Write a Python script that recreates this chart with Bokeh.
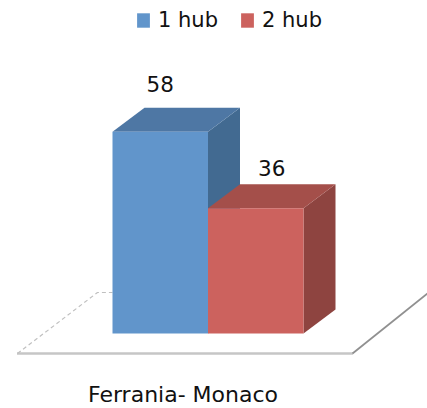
from bokeh.plotting import figure
from bokeh.models import Range1d, Legend, LegendItem, Label
from bokeh.core.properties import value
from bokeh.embed import file_html
from bokeh.resources import INLINE

series = ["1 hub", "2 hub"]
values = [58, 36]
category = "Ferrania- Monaco"
front_colors = ["#6195CB", "#CC625E"]
top_colors = ["#4E77A4", "#A44F4A"]
side_colors = ["#426A91", "#8E4440"]

W, H = 427, 408
PX_X = 95.5   # pixels per bar width
PX_Y = 3.48   # pixels per value unit
x0 = -112 / PX_X
y0 = -(H - 333) / PX_Y
DX = 32 / PX_X
DY = 24 / PX_Y

p = figure(width=W, height=H, output_backend="svg", toolbar_location=None,
           x_range=Range1d(x0, x0 + W / PX_X), y_range=Range1d(y0, y0 + H / PX_Y),
           min_border=0, outline_line_color=None, background_fill_color="white")
p.axis.visible = False
p.grid.visible = False

# floor
fx_front = -95 / PX_X
fy_front = -20 / PX_Y
fx_right = 240 / PX_X
fy_back = 41 / PX_Y
p.line([fx_front, fx_right], [fy_front, fy_front], line_color="#8c8c8c", line_width=2.5, line_dash="1 1")
p.line([fx_right, fx_right + 75 / PX_X], [fy_front, fy_front + 60 / PX_Y], line_color="#909090", line_width=1.8)
p.line([fx_front, -15 / PX_X, 0], [fy_front, fy_back, fy_back], line_color="#c0c0c0", line_width=1.2, line_dash="4 3")

renderers = []
for i in [0, 1]:
    v = values[i]
    p.patch([i + 1, i + 1 + DX, i + 1 + DX, i + 1], [0, DY, v + DY, v], fill_color=side_colors[i], line_color=None)
    p.patch([i, i + DX, i + 1 + DX, i + 1], [v, v + DY, v + DY, v], fill_color=top_colors[i], line_color=None)
    r = p.quad(left=i, right=i + 1, bottom=0, top=v, fill_color=front_colors[i], line_color=None)
    renderers.append(r)

p.text([0.5, 1.5 + DX / 2], [values[0] + DY + 4.6, values[1] + DY + 2.4],
       text=[str(v) for v in values], text_font=value("DejaVu Sans"), text_font_size="21.5px",
       text_color="#111111", text_align="center", text_baseline="bottom")

p.add_layout(Label(x=(182.5 - 112) / PX_X, y=y0 + 2 / PX_Y, text=category, text_font="DejaVu Sans",
                   text_font_size="22px", text_color="#111111", text_align="center", text_baseline="bottom"))

legend = Legend(items=[LegendItem(label=s, renderers=[r]) for s, r in zip(series, renderers)],
                orientation="horizontal", location=(135, H - 32), border_line_color=None,
                background_fill_alpha=0, padding=0, margin=0, spacing=21, glyph_width=16, glyph_height=18,
                label_text_font="DejaVu Sans", label_text_font_size="21px", label_text_color="#111111",
                label_standoff=7, label_height=18)
p.add_layout(legend, "center")

open("out.html", "w").write(file_html(p, INLINE))
